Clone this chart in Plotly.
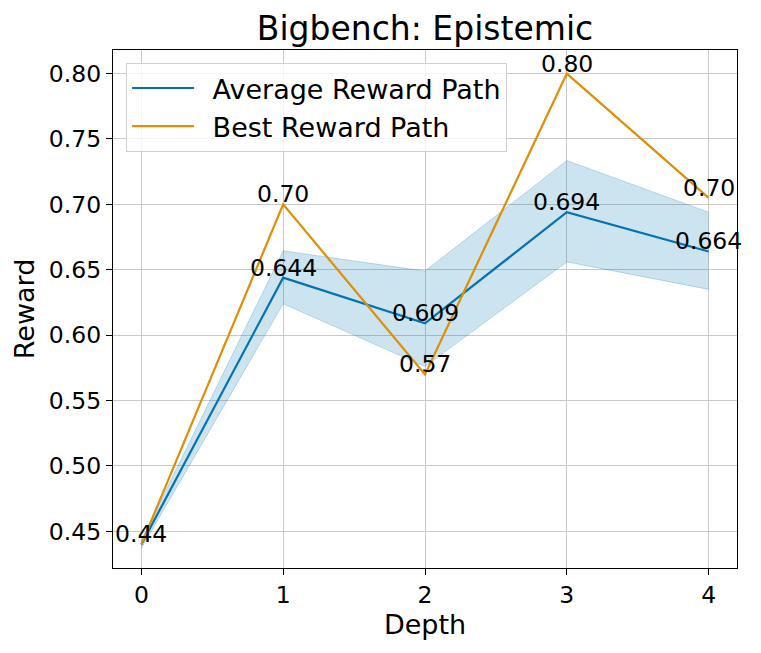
import plotly.graph_objects as go

depth = [0, 1, 2, 3, 4]
avg_reward = [0.44, 0.644, 0.609, 0.694, 0.664]
avg_upper = [0.443, 0.6645, 0.649, 0.7335, 0.694]
avg_lower = [0.437, 0.624, 0.576, 0.656, 0.635]
best_reward = [0.44, 0.70, 0.57, 0.80, 0.705]

blue = '#0173B2'
orange = '#DE8F05'
font = 'DejaVu Sans'

fig = go.Figure()

# std band around the average path
fig.add_trace(go.Scatter(x=depth, y=avg_upper, mode='lines',
                         line=dict(color='rgba(1,115,178,0.22)', width=1),
                         showlegend=False, hoverinfo='skip'))
fig.add_trace(go.Scatter(x=depth, y=avg_lower, mode='lines', fill='tonexty',
                         fillcolor='rgba(1,115,178,0.2)',
                         line=dict(color='rgba(1,115,178,0.22)', width=1),
                         showlegend=False, hoverinfo='skip'))

# en-space in front of the names mimics matplotlib's handle/text gap
fig.add_trace(go.Scatter(x=depth, y=avg_reward, mode='lines', name='\u2002Average Reward Path',
                         line=dict(color=blue, width=2.2), legendgroup='a'))
fig.add_trace(go.Scatter(x=depth, y=best_reward, mode='lines', name='\u2002Best Reward Path',
                         line=dict(color=orange, width=2.2), legendgroup='b'))

# value labels
for d, v in zip(depth[1:], avg_reward[1:]):
    fig.add_annotation(x=d, y=v, text=f'{v:.3f}', showarrow=False,
                       xanchor='center', yanchor='bottom', yshift=-6,
                       font=dict(family=font, size=23.5, color='black'))
for d, v in zip(depth, best_reward):
    fig.add_annotation(x=d, y=v, text=f'{v:.2f}', showarrow=False,
                       xanchor='center', yanchor='bottom', yshift=-6,
                       font=dict(family=font, size=23.5, color='black'))

axis_common = dict(showline=True, linecolor='black', linewidth=1.3, mirror=True,
                   ticks='outside', ticklen=6, tickwidth=1.3, tickcolor='black',
                   showgrid=True, gridcolor='rgb(200,200,200)', gridwidth=1.4,
                   zeroline=False, tickfont=dict(family=font, size=23.5, color='black'))

fig.update_xaxes(range=[-0.2, 4.2], tickvals=depth,
                 title=dict(text='Depth', font=dict(family=font, size=27, color='black'), standoff=0),
                 **axis_common)
fig.update_yaxes(range=[0.422, 0.818], dtick=0.05, tickformat='.2f',
                 title=dict(text='Reward', font=dict(family=font, size=27, color='black'), standoff=6),
                 **axis_common)

# the page adds an 8px body margin, so margins are offset by that
fig.update_layout(
    width=761, height=653,
    margin=dict(l=105, r=32, t=42, b=93),
    paper_bgcolor='white', plot_bgcolor='white',
    title=dict(text='Bigbench: Epistemic', x=0.5, xref='paper', xanchor='center',
               y=0.968, yref='container', yanchor='middle',
               font=dict(family=font, size=33, color='black')),
    legend=dict(x=0.021, y=0.975, xanchor='left', yanchor='top',
                bgcolor='rgba(255,255,255,0.8)', bordercolor='#d0d0d0', borderwidth=1,
                font=dict(family=font, size=27, color='black'),
                itemwidth=62, tracegroupgap=0),
    font=dict(family=font),
)

fig.write_html('out.html')
